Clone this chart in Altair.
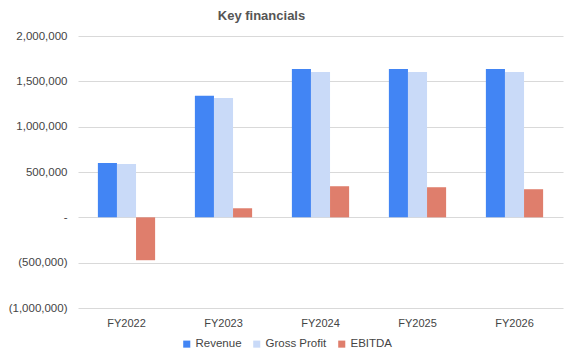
import altair as alt
import pandas as pd

years = ["FY2022", "FY2023", "FY2024", "FY2025", "FY2026"]
series = ["Revenue", "Gross Profit", "EBITDA"]
revenue = [600000, 1340000, 1637000, 1637000, 1637000]
gross_profit = [588000, 1316000, 1604000, 1604000, 1604000]
ebitda = [-473000, 100000, 343000, 332000, 310000]
colors = ["#4285F4", "#C9DAF8", "#DF7E6C"]

rows = []
for i, y in enumerate(years):
    for s, vals in zip(series, [revenue, gross_profit, ebitda]):
        rows.append({"Year": y, "Series": s, "Value": vals[i]})
df = pd.DataFrame(rows)

font = "Liberation Sans"

chart = alt.Chart(df).mark_bar().encode(
    x=alt.X("Year:N", sort=years, title=None,
            scale=alt.Scale(paddingInner=0.41, paddingOuter=0.205),
            axis=alt.Axis(labelAngle=0, ticks=False, domain=False, grid=False,
                          labelPadding=9, labelFontSize=11, labelColor="#444444",
                          labelFont=font)),
    xOffset=alt.XOffset("Series:N", sort=series, scale=alt.Scale(paddingInner=0, paddingOuter=0)),
    y=alt.Y("Value:Q", title=None,
            scale=alt.Scale(domain=[-1000000, 2000000], nice=False),
            axis=alt.Axis(values=[-1000000, -500000, 0, 500000, 1000000, 1500000, 2000000],
                          labelExpr="datum.value == 0 ? '-' : (datum.value < 0 ? '(' + format(-datum.value, ',') + ')' : format(datum.value, ','))",
                          ticks=False, domain=False, gridColor="#D9D9D9", gridWidth=1,
                          labelPadding=11, labelFontSize=11.5, labelColor="#444444",
                          labelFont=font)),
    color=alt.Color("Series:N", sort=series,
                    scale=alt.Scale(domain=series, range=colors),
                    legend=alt.Legend(title=None, orient="none", direction="horizontal",
                                      legendX=103, legendY=302,
                                      symbolType="square", symbolSize=50,
                                      symbolStrokeWidth=0, labelFontSize=11.5,
                                      labelColor="#444444", labelFont=font,
                                      labelOffset=3, columnPadding=9)),
).properties(
    width=485, height=272,
    title=alt.TitleParams("Key financials", fontSize=13, fontWeight="bold",
                          color="#555555", font=font, anchor="middle", dx=-59, offset=7),
    autosize=alt.AutoSizeParams(type="none"),
    padding={"left": 70, "top": 28, "right": 2, "bottom": 45},
).configure_view(stroke=None)

chart.save("out.html", embed_options={"renderer": "svg", "actions": False})
